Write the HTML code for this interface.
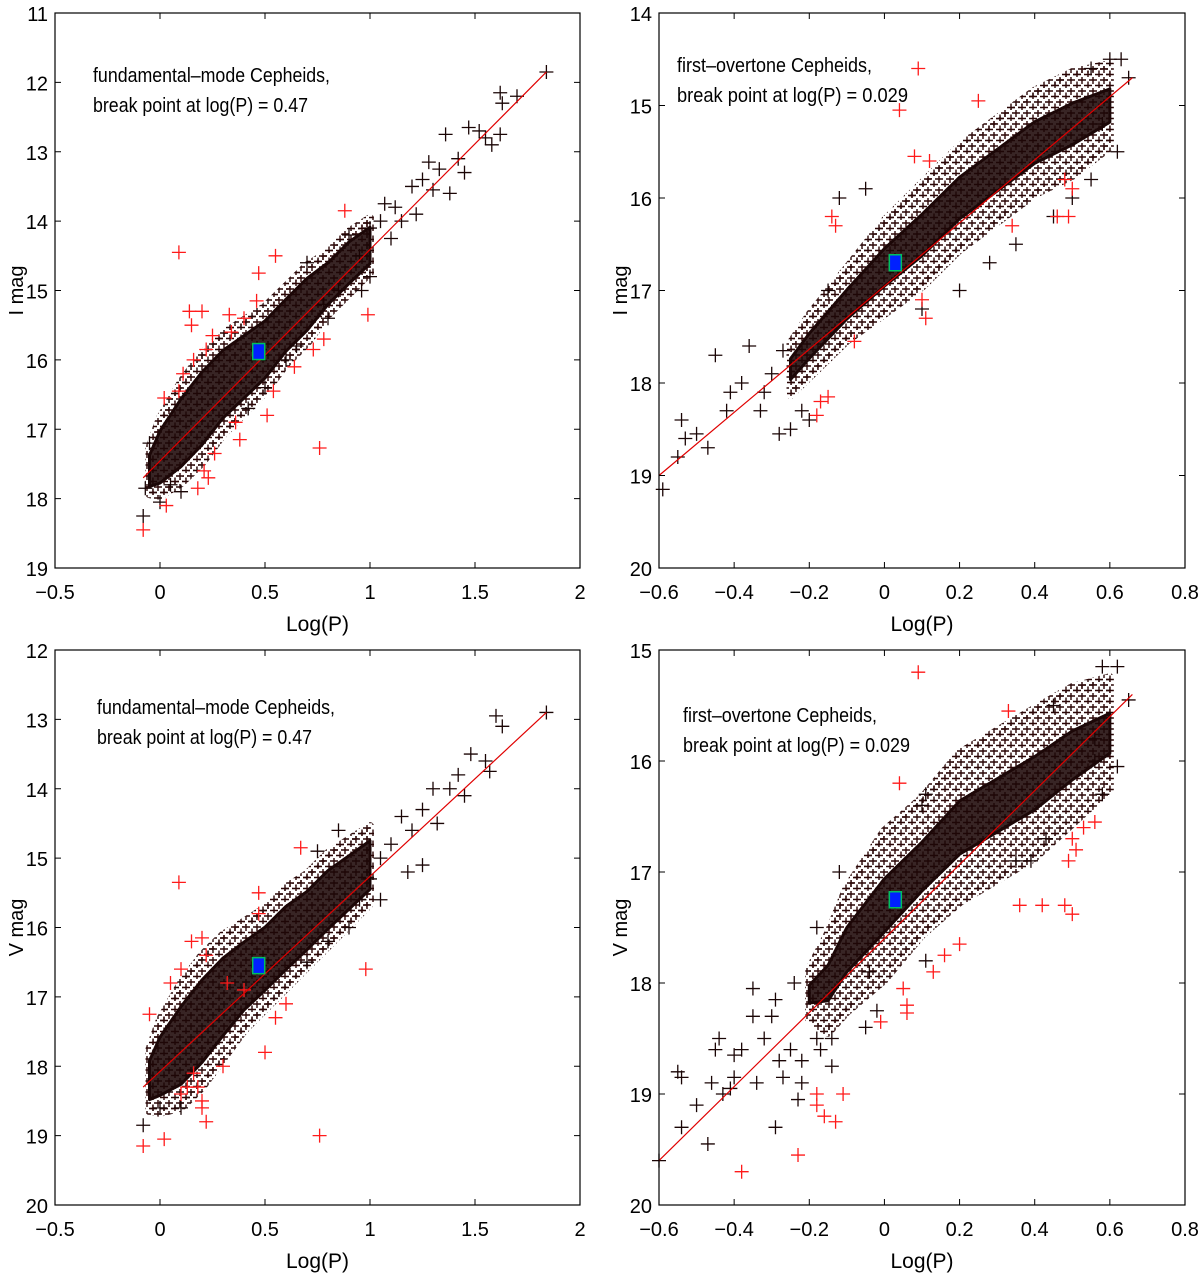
<!DOCTYPE html>
<html><head><meta charset="utf-8"><style>
body{margin:0;background:#fff}
svg{display:block;font-family:"Liberation Sans",sans-serif}
</style></head><body>
<svg id="chart" width="1200" height="1280" viewBox="0 0 1200 1280">
<defs>
<pattern id="crossPat" patternUnits="userSpaceOnUse" width="11" height="11">
<path d="M0 3H8M4 -1V7M6 8.5H14M10 4.5V12.5M-5 8.5H3" stroke="#2a0606" stroke-width="1.4" fill="none"/>
</pattern>
</defs>
</svg>
<script>
// Panel 1: I-band, fundamental mode
const p1Envelope_x=[-0.05,0,0.1,0.2,0.3,0.4,0.5,0.6,0.7,0.8,0.9,1.0];
const p1Envelope_hi=[17.3,16.9,16.4,16.0,15.7,15.5,15.3,15.0,14.7,14.5,14.2,14.0];
const p1Envelope_lo=[17.9,17.9,17.7,17.4,17.0,16.7,16.4,16.0,15.7,15.3,15.0,14.7];
const p1Black=[[1.84,11.85],[1.62,12.15],[1.70,12.2],[1.63,12.3],[1.36,12.75],[1.47,12.65],[1.52,12.7],[1.55,12.8],[1.62,12.75],[1.58,12.9],[1.42,13.1],[1.45,13.3],[1.33,13.25],[1.28,13.15],[1.30,13.55],[1.38,13.6],[1.25,13.4],[1.20,13.5],[1.22,13.9],[1.12,13.8],[1.15,14.0],[1.07,13.75],[1.05,14.0],[1.00,14.1],[1.10,14.25],[0.95,14.5],[1.0,14.8],[0.96,15.0],[0.85,15.0],[0.7,14.6],[0.78,15.2],[0.65,15.8],[0.5,16.4],[0.42,16.7],[-0.08,18.25],[-0.07,17.85],[-0.05,17.2],[0.0,18.05],[0.05,17.8],[0.1,17.9],[0.6,16.0],[0.8,15.4],[0.9,14.2]];
const p1Red=[[0.09,14.45],[0.47,14.75],[0.46,15.15],[0.14,15.3],[0.2,15.3],[0.15,15.5],[0.33,15.35],[0.40,15.4],[0.34,15.6],[0.25,15.65],[0.22,15.85],[0.16,16.0],[0.11,16.2],[0.09,16.45],[0.02,16.55],[0.36,16.9],[0.38,17.15],[0.26,17.35],[0.21,17.6],[0.23,17.7],[0.18,17.85],[0.03,18.1],[-0.08,18.45],[0.88,13.85],[0.99,15.35],[0.78,15.7],[0.73,15.85],[0.64,16.1],[0.54,16.45],[0.51,16.8],[0.76,17.27],[0.55,14.5]];
const p1Fit=[[-0.08,17.7],[1.84,11.85]];
const p1Break=[0.47,15.88];
// Panel 2: I-band, first overtone
const p2Envelope_x=[-0.25,-0.2,-0.1,0,0.1,0.2,0.3,0.4,0.5,0.6];
const p2Envelope_hi=[17.6,17.3,16.8,16.3,15.9,15.5,15.2,14.9,14.7,14.6];
const p2Envelope_lo=[18.1,17.9,17.5,17.2,16.9,16.5,16.2,15.9,15.7,15.4];
const p2Black=[[-0.59,19.15],[-0.55,18.8],[-0.53,18.6],[-0.54,18.4],[-0.5,18.55],[-0.47,18.7],[-0.45,17.7],[-0.41,18.1],[-0.36,17.6],[-0.38,18.0],[-0.33,18.3],[-0.28,18.55],[-0.3,17.9],[-0.27,17.65],[-0.22,18.3],[-0.25,18.5],[-0.2,18.4],[-0.32,18.1],[-0.42,18.3],[0.6,14.5],[0.63,14.5],[0.65,14.7],[0.55,14.6],[0.58,15.2],[0.62,15.5],[0.55,15.8],[0.45,16.2],[0.35,16.5],[0.28,16.7],[-0.12,16.0],[-0.05,15.9],[-0.15,17.0],[0.1,17.2],[0.2,17.0],[0.5,16.0]];
const p2Red=[[0.09,14.6],[0.25,14.95],[0.04,15.05],[0.08,15.55],[0.12,15.6],[-0.14,16.2],[-0.13,16.3],[0.48,15.8],[0.5,15.9],[0.46,16.2],[0.49,16.2],[0.34,16.3],[0.1,17.1],[0.11,17.3],[-0.08,17.55],[-0.15,18.15],[-0.18,18.35],[-0.17,18.2]];
const p2Fit=[[-0.6,19.0],[0.66,14.7]];
const p2Break=[0.029,16.7];
// Panel 3: V-band, fundamental mode
const p3Envelope_x=[-0.05,0,0.1,0.2,0.3,0.4,0.5,0.6,0.7,0.8,0.9,1.0];
const p3Envelope_hi=[17.8,17.4,16.9,16.5,16.2,16.0,15.8,15.5,15.3,15.0,14.8,14.6];
const p3Envelope_lo=[18.6,18.6,18.5,18.2,17.8,17.4,17.1,16.8,16.5,16.2,15.9,15.6];
const p3Black=[[1.84,12.9],[1.6,12.95],[1.63,13.1],[1.55,13.6],[1.57,13.75],[1.48,13.5],[1.42,13.8],[1.38,14.0],[1.45,14.1],[1.3,14.0],[1.25,14.3],[1.32,14.5],[1.2,14.6],[1.15,14.4],[1.1,14.8],[1.25,15.1],[1.18,15.2],[1.05,15.0],[1.0,15.3],[0.95,15.6],[1.05,15.6],[0.9,16.0],[0.8,16.2],[0.7,16.5],[-0.08,18.85],[0.0,18.6],[0.1,18.6],[0.85,14.6],[0.75,14.9]];
const p3Red=[[0.09,15.35],[0.47,15.5],[0.47,15.8],[0.67,14.85],[0.2,16.15],[0.15,16.2],[0.22,16.4],[0.1,16.6],[0.05,16.8],[0.32,16.8],[0.4,16.9],[-0.05,17.25],[0.98,16.6],[0.6,17.1],[0.55,17.3],[0.5,17.8],[0.16,18.1],[0.18,18.3],[0.2,18.5],[0.22,18.8],[0.2,18.6],[0.13,18.3],[0.02,19.05],[-0.08,19.15],[0.76,19.0],[0.3,18.0],[0.1,18.4]];
const p3Fit=[[-0.08,18.3],[1.84,12.9]];
const p3Break=[0.47,16.55];
// Panel 4: V-band, first overtone
const p4Envelope_x=[-0.2,-0.15,-0.1,0,0.1,0.2,0.3,0.4,0.5,0.6];
const p4Envelope_hi=[17.9,17.6,17.2,16.7,16.4,16.0,15.8,15.6,15.4,15.3];
const p4Envelope_lo=[18.3,18.4,18.2,17.9,17.5,17.2,17.0,16.8,16.5,16.2];
const p4Black=[[-0.6,19.6],[-0.54,19.3],[-0.54,18.85],[-0.55,18.8],[-0.5,19.1],[-0.47,19.45],[-0.45,18.6],[-0.46,18.9],[-0.44,18.5],[-0.43,19.0],[-0.41,18.95],[-0.4,18.65],[-0.38,18.6],[-0.4,18.85],[-0.35,18.05],[-0.35,18.3],[-0.34,18.9],[-0.32,18.5],[-0.3,18.3],[-0.29,18.15],[-0.29,19.3],[-0.28,18.7],[-0.27,18.85],[-0.25,18.6],[-0.24,18.0],[-0.22,18.9],[-0.23,19.05],[-0.22,18.7],[-0.17,18.6],[-0.14,18.5],[-0.14,18.75],[-0.18,18.5],[0.58,15.15],[0.62,15.15],[0.65,15.45],[0.56,16.0],[0.62,16.05],[0.56,15.8],[0.58,16.3],[0.43,16.7],[0.35,16.9],[0.39,16.9],[0.45,15.5],[0.1,16.4],[0.11,16.3],[-0.04,17.9],[-0.05,18.4],[-0.02,18.25],[0.11,17.8],[-0.12,17.0],[-0.18,17.5]];
const p4Red=[[0.09,15.2],[0.33,15.55],[0.04,16.2],[0.49,16.9],[0.5,16.7],[0.51,16.8],[0.53,16.6],[0.56,16.55],[0.36,17.3],[0.42,17.3],[0.48,17.3],[0.5,17.38],[0.2,17.65],[0.16,17.75],[0.13,17.9],[0.05,18.05],[0.06,18.2],[0.06,18.27],[-0.01,18.35],[-0.18,19.0],[-0.18,19.1],[-0.16,19.2],[-0.11,19.0],[-0.13,19.25],[-0.23,19.55],[-0.38,19.7]];
const p4Fit=[[-0.6,19.6],[0.66,15.4]];
const p4Break=[0.029,17.25];

const xTicksF=[-0.5,0,0.5,1,1.5,2], xLabF=["\u22120.5","0","0.5","1","1.5","2"];
const xTicksO=[-0.6,-0.4,-0.2,0,0.2,0.4,0.6,0.8], xLabO=["\u22120.6","\u22120.4","\u22120.2","0","0.2","0.4","0.6","0.8"];
const yTicks1=[11,12,13,14,15,16,17,18,19], yTicks2=[14,15,16,17,18,19,20], yTicks3=[12,13,14,15,16,17,18,19,20], yTicks4=[15,16,17,18,19,20];

const NS="http://www.w3.org/2000/svg", svg=document.getElementById('chart');
function mk(tag,attrs,parent){const e=document.createElementNS(NS,tag);for(const k in attrs)e.setAttribute(k,attrs[k]);(parent||svg).appendChild(e);return e;}

const panels=[
 {id:'p1',L:55,R:580,T:13,B:568,xd:[-0.5,2],yd:[11,19],xt:xTicksF,xl:xLabF,yt:yTicks1,env:[p1Envelope_x,p1Envelope_hi,p1Envelope_lo],core:0.75,blk:p1Black,red:p1Red,fit:p1Fit,brk:p1Break,ylab:'I mag',t1:'fundamental\u2013mode Cepheids,',t2:'break point at log(P) = 0.47',tx:93,ty:82,w1:237,w2:215},
 {id:'p2',L:659,R:1185,T:13,B:568,xd:[-0.6,0.8],yd:[14,20],xt:xTicksO,xl:xLabO,yt:yTicks2,env:[p2Envelope_x,p2Envelope_hi,p2Envelope_lo],core:0.45,blk:p2Black,red:p2Red,fit:p2Fit,brk:p2Break,ylab:'I mag',t1:'first\u2013overtone Cepheids,',t2:'break point at log(P) = 0.029',tx:677,ty:72,w1:195,w2:231},
 {id:'p3',L:55,R:580,T:650,B:1205,xd:[-0.5,2],yd:[12,20],xt:xTicksF,xl:xLabF,yt:yTicks3,env:[p3Envelope_x,p3Envelope_hi,p3Envelope_lo],core:0.7,blk:p3Black,red:p3Red,fit:p3Fit,brk:p3Break,ylab:'V mag',t1:'fundamental\u2013mode Cepheids,',t2:'break point at log(P) = 0.47',tx:97,ty:714,w1:238,w2:215},
 {id:'p4',L:659,R:1185,T:650,B:1205,xd:[-0.6,0.8],yd:[15,20],xt:xTicksO,xl:xLabO,yt:yTicks4,env:[p4Envelope_x,p4Envelope_hi,p4Envelope_lo],core:0.4,blk:p4Black,red:p4Red,fit:p4Fit,brk:p4Break,ylab:'V mag',t1:'first\u2013overtone Cepheids,',t2:'break point at log(P) = 0.029',tx:683,ty:722,w1:194,w2:227}
];

panels.forEach(p=>{
 const g=mk('g',{});
 
 
 const X=v=>p.L+(v-p.xd[0])/(p.xd[1]-p.xd[0])*(p.R-p.L);
 const Y=v=>p.T+(v-p.yd[0])/(p.yd[1]-p.yd[0])*(p.B-p.T);
 const [ex,eh,el]=p.env;
 const polyPts=(f)=>{let pts=ex.map((x,i)=>X(x)+','+Y((eh[i]+el[i])/2-(el[i]-eh[i])/2*f));
  for(let i=ex.length-1;i>=0;i--)pts.push(X(ex[i])+','+Y((eh[i]+el[i])/2+(el[i]-eh[i])/2*f));return pts.join(' ');};
 const outer=mk('polygon',{points:polyPts(1.12),fill:'url(#crossPat)',stroke:'url(#crossPat)','stroke-width':8,'stroke-linejoin':'round'},g);
 
 
 const poly=mk('polygon',{points:polyPts(p.core),fill:'#1c0707','fill-opacity':0.88,stroke:'#1c0707','stroke-width':3,'stroke-linejoin':'round'},g);
 
 
 const plus=(d,col,name)=>{const x=X(d[0]),y=Y(d[1]);const e=mk('path',{d:`M${x-7} ${y}H${x+7}M${x} ${y-7}V${y+7}`,stroke:col,'stroke-width':1.3,fill:'none'},g);
  
  };
 p.blk.forEach(d=>plus(d,'#1a0505','cepheid-point'));
 p.red.forEach(d=>plus(d,'#ff1a1a','rejected-point'));
 const fl=mk('line',{x1:X(p.fit[0][0]),y1:Y(p.fit[0][1]),x2:X(p.fit[1][0]),y2:Y(p.fit[1][1]),stroke:'#e00000','stroke-width':1.2},g);
 
 
 const bk=mk('rect',{x:X(p.brk[0])-6,y:Y(p.brk[1])-8,width:12,height:16,fill:'#0020ff',stroke:'#00c060','stroke-width':1.5},g);
 
 
 const fr=mk('rect',{x:p.L,y:p.T,width:p.R-p.L,height:p.B-p.T,fill:'none',stroke:'#000','stroke-width':1.2},g);
 
 
 p.xt.forEach((t,i)=>{const x=X(t);
  mk('path',{d:`M${x} ${p.B}v-6M${x} ${p.T}v6`,stroke:'#000','stroke-width':1},g);
  const tl=mk('text',{x:x,y:p.B+31,'text-anchor':'middle','font-size':20},g);tl.textContent=p.xl[i];
  
  });
 p.yt.forEach(t=>{const y=Y(t);
  mk('path',{d:`M${p.L} ${y}h6M${p.R} ${y}h-6`,stroke:'#000','stroke-width':1},g);
  const tl=mk('text',{x:p.L-7,y:y+8,'text-anchor':'end','font-size':20},g);tl.textContent=t;
  
  });
 const xt=mk('text',{x:(p.L+p.R)/2,y:p.B+63,'text-anchor':'middle','font-size':21},g);xt.textContent='Log(P)';
 
 
 const yc=(p.T+p.B)/2,yx=p.L-32;
 const yl=mk('text',{x:yx,y:yc,'text-anchor':'middle','font-size':20,transform:`rotate(-90 ${yx} ${yc})`},g);yl.textContent=p.ylab;
 
 
 const a1=mk('text',{x:p.tx,y:p.ty,'font-size':20,textLength:p.w1,lengthAdjust:'spacingAndGlyphs'},g);a1.textContent=p.t1;
 
 
 const a2=mk('text',{x:p.tx,y:p.ty+30,'font-size':20,textLength:p.w2,lengthAdjust:'spacingAndGlyphs'},g);a2.textContent=p.t2;
 
 
});
</script>
</body></html>
